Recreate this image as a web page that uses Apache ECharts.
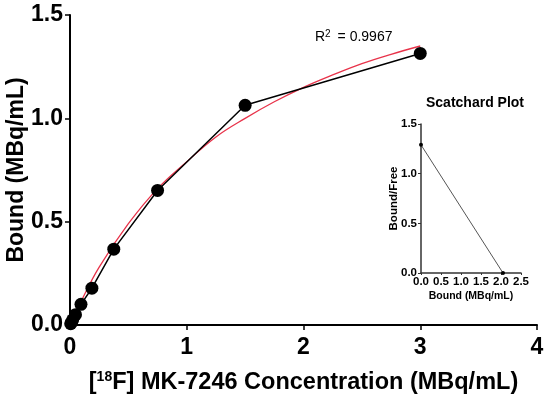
<!DOCTYPE html>
<html>
<head>
<meta charset="utf-8">
<script src="https://cdn.jsdelivr.net/npm/echarts@6/dist/echarts.min.js"></script>
<style>html,body{margin:0;padding:0;background:#fff}#c{width:550px;height:399px}</style>
</head>
<body>
<div id="c"></div>
<script>
// Measured binding data
var concX = [0.006, 0.012, 0.023, 0.047, 0.094, 0.1875, 0.375, 0.75, 1.5, 3.0];
var boundY = [0.006, 0.012, 0.025, 0.05, 0.10, 0.178, 0.367, 0.651, 1.063, 1.314];
// Red fit curve
var fitX = [0, 0.1, 0.25, 0.5, 0.75, 1, 1.25, 1.5, 1.75, 2, 2.25, 2.5, 2.75, 3];
var fitY = [0, 0.12, 0.28, 0.49, 0.66, 0.79, 0.91, 1.00, 1.08, 1.15, 1.21, 1.265, 1.31, 1.35];
// Scatchard inset
var scatX = [0, 2.05];
var scatY = [1.29, 0];
// Ticks
var mainXTicks = [0, 1, 2, 3, 4];
var mainYTicks = [0, 0.5, 1.0, 1.5];
var insetXTicks = [0, 0.5, 1.0, 1.5, 2.0, 2.5];
var insetYTicks = [0, 0.5, 1.0, 1.5];

function pairs(xs, ys) { return xs.map(function (x, i) { return [x, ys[i]]; }); }

var FONT = '"Liberation Sans", Arial, sans-serif';
var chart = echarts.init(document.getElementById('c'), null, { renderer: 'canvas' });
chart.setOption({
  animation: false,
  backgroundColor: '#fff',
  textStyle: { fontFamily: FONT },
  title: [
    { text: 'Scatchard Plot', left: 470, top: 91, textAlign: 'center',
      textStyle: { fontFamily: FONT, fontSize: 14, fontWeight: 'bold', color: '#000' } },
    { text: 'R{s|2} = 0.9967', left: 310, top: 24,
      textStyle: { fontFamily: FONT, fontSize: 14, fontWeight: 'normal', color: '#000',
        rich: { s: { fontSize: 10, verticalAlign: 'top', padding: [0, 3, 7, 0], fontFamily: FONT, color: '#000' } } } }
  ],
  grid: [
    { left: 70, top: 15, width: 467, height: 310, containLabel: false, outerBoundsMode: 'none' },
    { left: 421, top: 124, width: 100, height: 149, containLabel: false, outerBoundsMode: 'none' }
  ],
  xAxis: [
    { gridIndex: 0, type: 'value', min: mainXTicks[0], max: mainXTicks[mainXTicks.length - 1], interval: 1,
      splitLine: { show: false },
      axisLine: { lineStyle: { color: '#000', width: 2 } },
      axisTick: { length: 5, lineStyle: { color: '#000', width: 1.5 } },
      axisLabel: { color: '#000', fontSize: 23, fontWeight: 'bold', margin: 11, fontFamily: FONT },
      name: '[{s|18}F] MK-7246 Concentration (MBq/mL)', nameLocation: 'middle', nameGap: 45, nameMoveOverlap: false,
      nameTextStyle: { color: '#000', fontSize: 23.5, fontWeight: 'bold', fontFamily: FONT,
        rich: { s: { fontSize: 14, fontWeight: 'bold', verticalAlign: 'top', padding: [0, 0, 12, 0], fontFamily: FONT, color: '#000' } } } },
    { gridIndex: 1, type: 'value', min: insetXTicks[0], max: insetXTicks[insetXTicks.length - 1], interval: 0.5,
      splitLine: { show: false },
      axisLine: { lineStyle: { color: '#333', width: 1.5 } },
      axisTick: { length: 2, lineStyle: { color: '#333' } },
      axisLabel: { color: '#000', fontSize: 11.5, fontWeight: 'bold', margin: 3, interval: 0,
        formatter: function (v) { return v.toFixed(1); }, fontFamily: FONT },
      name: 'Bound (MBq/mL)', nameLocation: 'middle', nameGap: 18, nameMoveOverlap: false,
      nameTextStyle: { color: '#000', fontSize: 10.5, fontWeight: 'bold', fontFamily: FONT } }
  ],
  yAxis: [
    { gridIndex: 0, type: 'value', min: mainYTicks[0], max: mainYTicks[mainYTicks.length - 1], interval: 0.5,
      splitLine: { show: false },
      axisLine: { show: true, lineStyle: { color: '#000', width: 2 } },
      axisTick: { show: true, length: 5, lineStyle: { color: '#000', width: 1.5 } },
      axisLabel: { color: '#000', fontSize: 23, fontWeight: 'bold', margin: 7,
        formatter: function (v) { return v.toFixed(1); }, fontFamily: FONT },
      name: 'Bound (MBq/mL)', nameLocation: 'middle', nameGap: 42, nameMoveOverlap: false,
      nameTextStyle: { color: '#000', fontSize: 23, fontWeight: 'bold', fontFamily: FONT } },
    { gridIndex: 1, type: 'value', min: insetYTicks[0], max: insetYTicks[insetYTicks.length - 1], interval: 0.5,
      splitLine: { show: false },
      axisLine: { show: true, lineStyle: { color: '#333', width: 1.5 } },
      axisTick: { show: true, length: 3, lineStyle: { color: '#333' } },
      axisLabel: { color: '#000', fontSize: 11.5, fontWeight: 'bold', margin: 4,
        formatter: function (v) { return v.toFixed(1); }, fontFamily: FONT },
      name: 'Bound/Free', nameLocation: 'middle', nameGap: 21, nameMoveOverlap: false,
      nameTextStyle: { color: '#000', fontSize: 11.5, fontWeight: 'bold', fontFamily: FONT } }
  ],
  series: [
    { type: 'line', xAxisIndex: 0, yAxisIndex: 0, data: pairs(fitX, fitY), smooth: 0.4,
      showSymbol: false, symbol: 'none', lineStyle: { color: '#e8334a', width: 1.3 }, z: 2 },
    { type: 'line', xAxisIndex: 0, yAxisIndex: 0, data: pairs(concX, boundY),
      symbol: 'circle', symbolSize: 13, itemStyle: { color: '#000' },
      lineStyle: { color: '#000', width: 1.5 }, z: 3 },
    { type: 'line', xAxisIndex: 1, yAxisIndex: 1, data: pairs(scatX, scatY),
      symbol: 'circle', symbolSize: 4, itemStyle: { color: '#000' },
      lineStyle: { color: '#555', width: 1 }, z: 3 }
  ]
});
</script>
</body>
</html>
